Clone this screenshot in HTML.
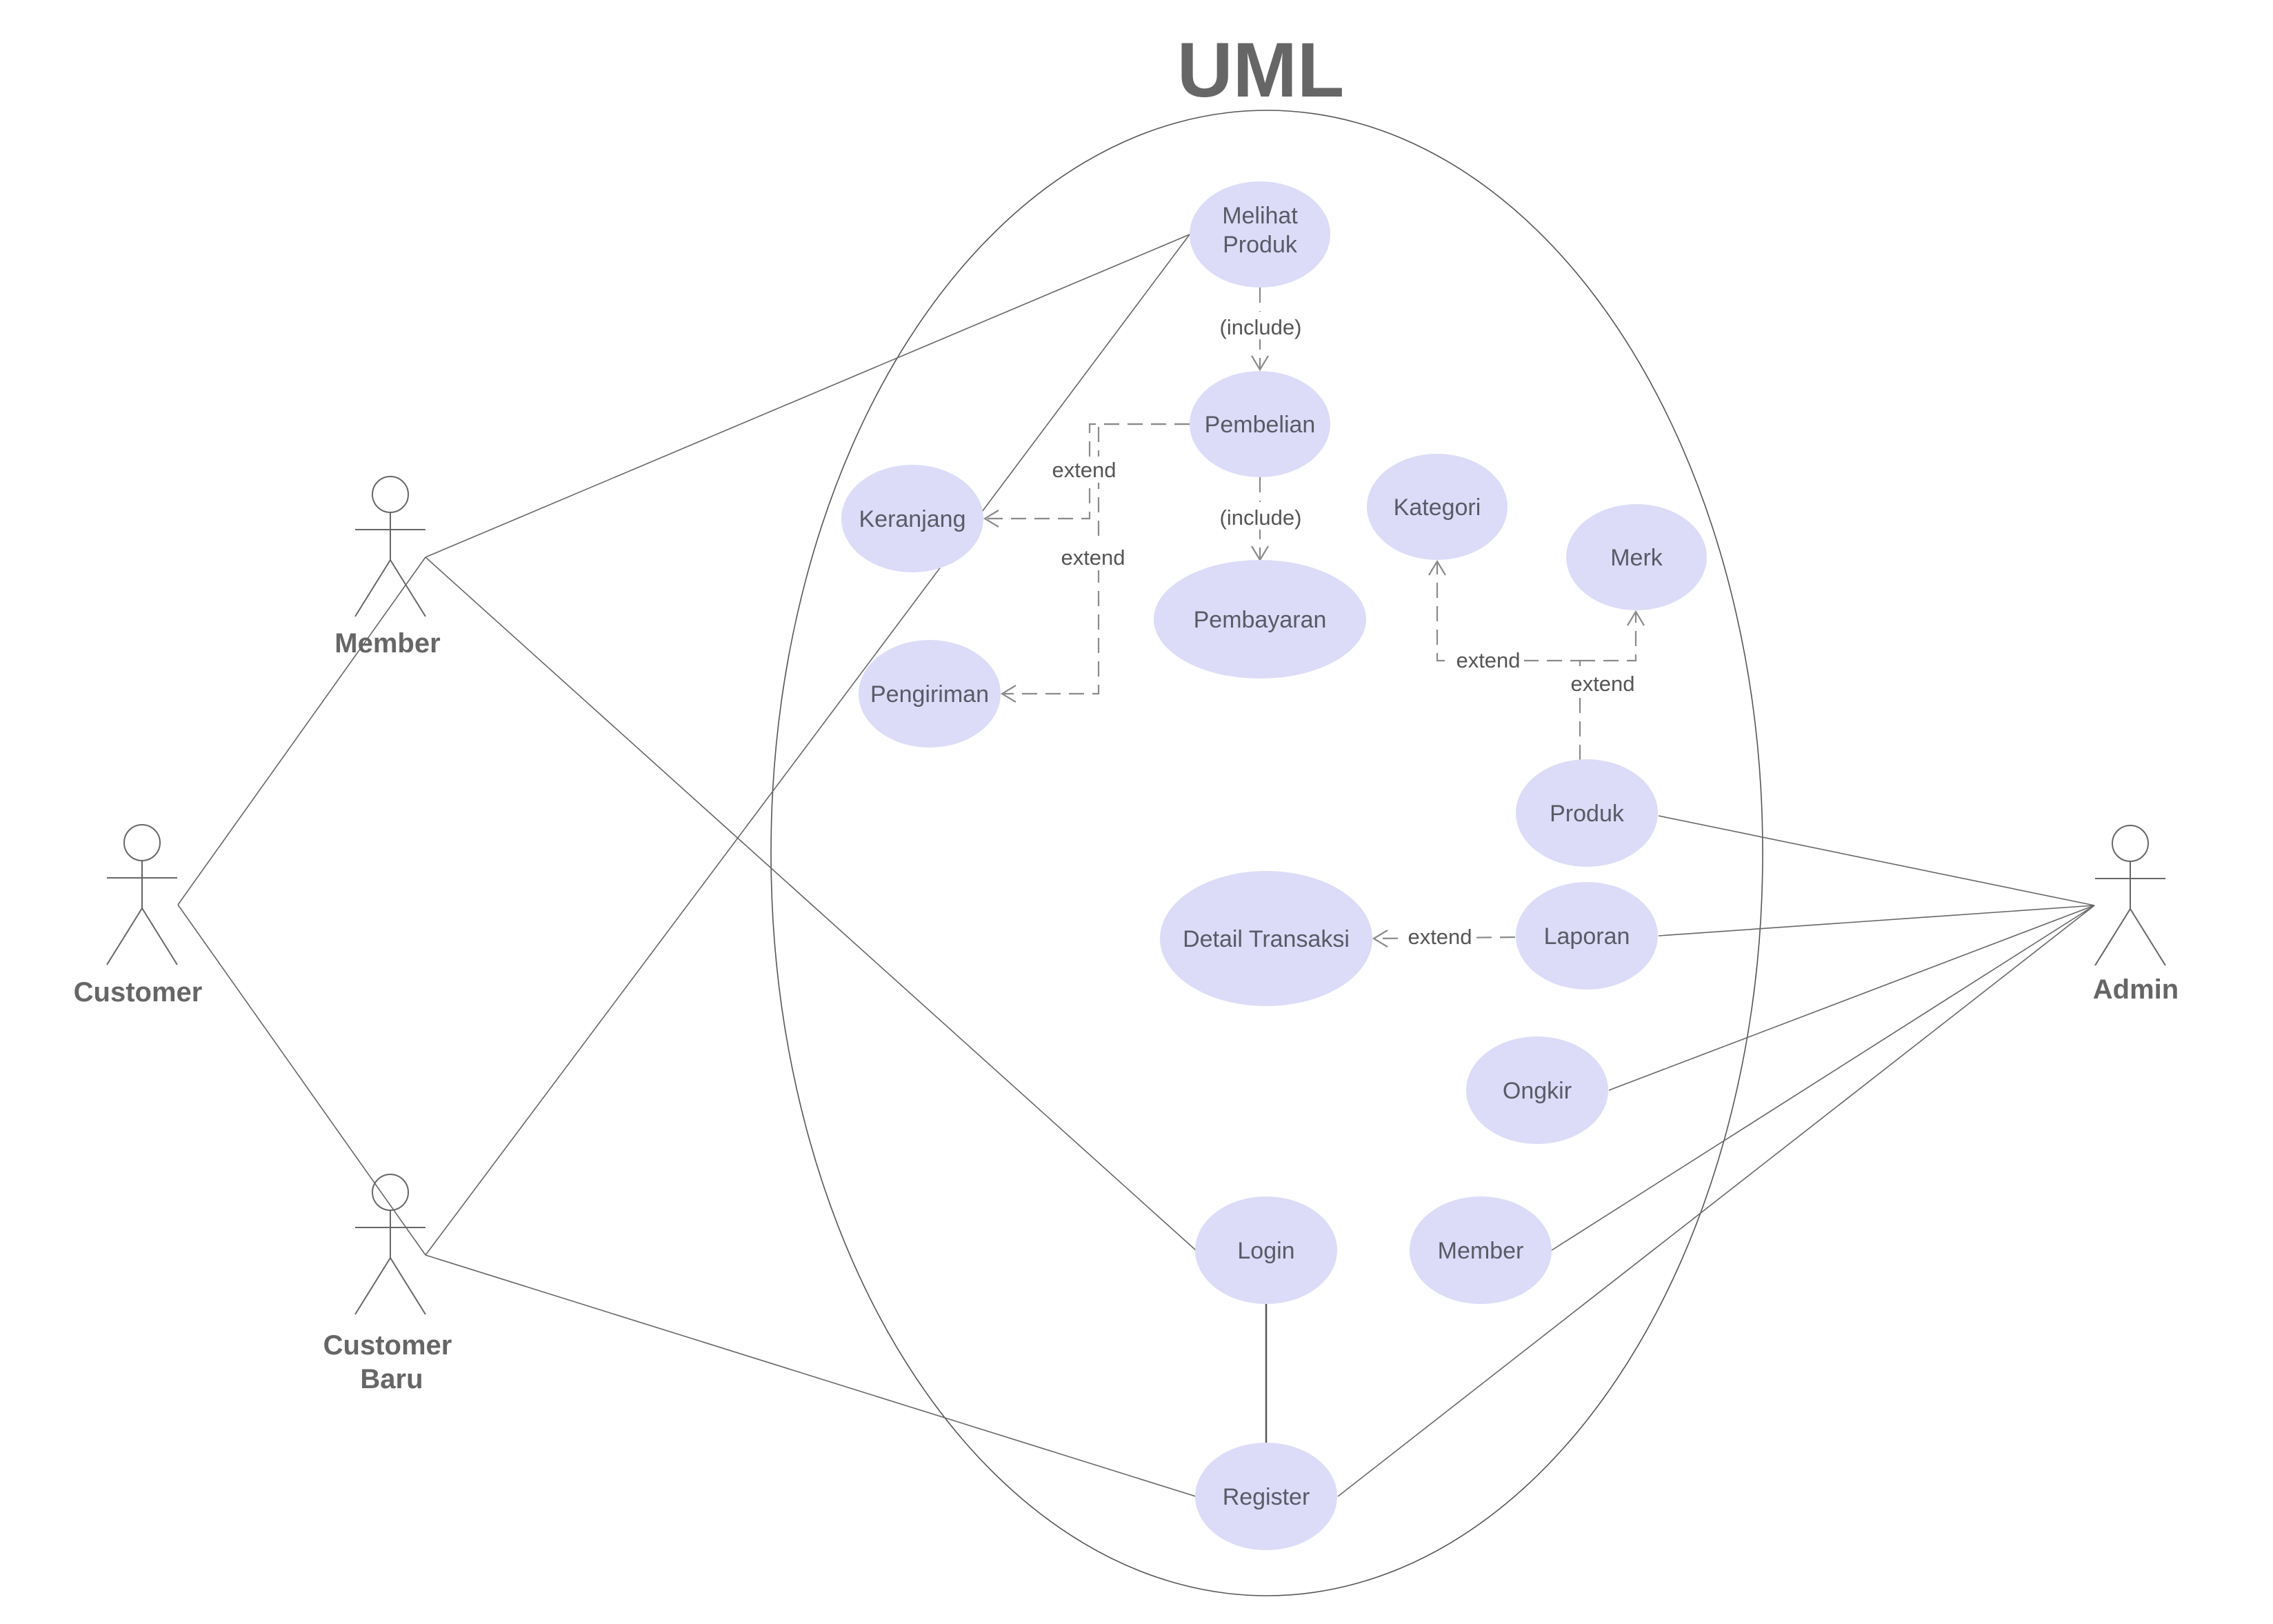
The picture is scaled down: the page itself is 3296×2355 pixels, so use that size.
<!DOCTYPE html>
<html><head><meta charset="utf-8"><style>html,body{margin:0;padding:0;background:#fff}svg{display:block}</style></head>
<body>
<svg width="3296" height="2355" viewBox="0 0 3296 2355" xmlns="http://www.w3.org/2000/svg" font-family="Liberation Sans, sans-serif">
<rect width="3296" height="2355" fill="#fff"/>
<text x="1828" y="140" font-size="112" font-weight="bold" fill="#666" text-anchor="middle">UML</text>
<ellipse cx="1837" cy="1237" rx="719" ry="1077" fill="none" stroke="#555" stroke-width="1.6"/>

<g stroke="#666" stroke-width="1.6" fill="none">
<!-- customer generalization -->
<line x1="258" y1="1312" x2="617" y2="808"/>
<line x1="258" y1="1312" x2="617" y2="1820"/>
<line x1="617" y1="808" x2="1725" y2="340"/>
<line x1="617" y1="808" x2="1734" y2="1813"/>
<line x1="617" y1="1820" x2="1725" y2="340"/>
<line x1="617" y1="1820" x2="1734" y2="2170"/>
<!-- admin -->
<line x1="3037" y1="1313" x2="2405" y2="1183"/>
<line x1="3037" y1="1313" x2="2405" y2="1357"/>
<line x1="3037" y1="1313" x2="2333" y2="1581"/>
<line x1="3037" y1="1313" x2="2250" y2="1813"/>
<line x1="3037" y1="1313" x2="1940" y2="2170"/>
</g>
<line x1="1836" y1="1891" x2="1836" y2="2092" stroke="#555" stroke-width="2.5"/>

<!-- actors -->
<g stroke="#666" stroke-width="2" fill="none">
<g transform="translate(566,717)"><circle r="26"/><line x1="0" y1="26" x2="0" y2="95"/><line x1="-51" y1="51" x2="51" y2="51"/><line x1="0" y1="95" x2="-51" y2="177"/><line x1="0" y1="95" x2="51" y2="177"/></g>
<g transform="translate(206,1222)"><circle r="26"/><line x1="0" y1="26" x2="0" y2="95"/><line x1="-51" y1="51" x2="51" y2="51"/><line x1="0" y1="95" x2="-51" y2="177"/><line x1="0" y1="95" x2="51" y2="177"/></g>
<g transform="translate(566,1729)"><circle r="26"/><line x1="0" y1="26" x2="0" y2="95"/><line x1="-51" y1="51" x2="51" y2="51"/><line x1="0" y1="95" x2="-51" y2="177"/><line x1="0" y1="95" x2="51" y2="177"/></g>
<g transform="translate(3089,1223)"><circle r="26"/><line x1="0" y1="26" x2="0" y2="95"/><line x1="-51" y1="51" x2="51" y2="51"/><line x1="0" y1="95" x2="-51" y2="177"/><line x1="0" y1="95" x2="51" y2="177"/></g>
</g>
<g font-size="40" font-weight="bold" fill="#666" text-anchor="middle">
<text x="562" y="946">Member</text>
<text x="200" y="1452">Customer</text>
<text x="562" y="1964">Customer</text>
<text x="568" y="2013">Baru</text>
<text x="3097" y="1448">Admin</text>
</g>

<!-- dashed connectors -->
<g stroke="#8a8a8a" stroke-width="2.2" fill="none" stroke-dasharray="22,12">
<line x1="1827" y1="417" x2="1827" y2="536"/>
<line x1="1827" y1="692" x2="1827" y2="810"/>
<polyline points="1725,615 1580,615 1580,752 1430,752"/>
<polyline points="1725,615 1593,615 1593,1006 1455,1006"/>
<polyline points="2291,1102 2291,958 2084,958 2084,815"/>
<polyline points="2291,958 2372,958 2372,888"/>
<line x1="2197" y1="1359" x2="1993" y2="1361"/>
</g>
<g stroke="#8a8a8a" stroke-width="2.2" fill="none">
<polyline points="1815,516 1827,536 1839,516"/>
<polyline points="1815,792 1827,812 1839,792"/>
<polyline points="1448,740 1428,752 1448,764"/>
<polyline points="1473,994 1453,1006 1473,1018"/>
<polyline points="2072,834 2084,814 2096,834"/>
<polyline points="2360,907 2372,887 2384,907"/>
<polyline points="2012,1349 1992,1361 2012,1373"/>
</g>
<g font-size="31" fill="#555" text-anchor="middle">
<rect x="1762" y="452" width="128" height="40" fill="#fff"/>
<text x="1828" y="485">(include)</text>
<rect x="1762" y="728" width="128" height="40" fill="#fff"/>
<text x="1828" y="761">(include)</text>
<rect x="1520" y="662" width="104" height="38" fill="#fff"/>
<text x="1572" y="692">extend</text>
<rect x="1533" y="789" width="104" height="38" fill="#fff"/>
<text x="1585" y="819">extend</text>
<rect x="2106" y="938" width="104" height="38" fill="#fff"/>
<text x="2158" y="968">extend</text>
<rect x="2272" y="972" width="104" height="38" fill="#fff"/>
<text x="2324" y="1002">extend</text>
<rect x="2036" y="1339" width="104" height="38" fill="#fff"/>
<text x="2088" y="1369">extend</text>
</g>

<!-- use cases -->
<g fill="#dcdcf8">
<ellipse cx="1827" cy="340" rx="102" ry="77"/>
<ellipse cx="1827" cy="615" rx="102" ry="77"/>
<ellipse cx="1827" cy="898" rx="154" ry="86"/>
<ellipse cx="2084" cy="735" rx="102" ry="77"/>
<ellipse cx="2373" cy="808" rx="102" ry="77"/>
<ellipse cx="1323" cy="752" rx="103" ry="78"/>
<ellipse cx="1348" cy="1006" rx="103" ry="78"/>
<ellipse cx="2301" cy="1179" rx="103" ry="78"/>
<ellipse cx="2301" cy="1357" rx="103" ry="78"/>
<ellipse cx="1836" cy="1361" rx="154" ry="98"/>
<ellipse cx="2229" cy="1581" rx="103" ry="78"/>
<ellipse cx="2147" cy="1813" rx="103" ry="78"/>
<ellipse cx="1836" cy="1813" rx="103" ry="78"/>
<ellipse cx="1836" cy="2170" rx="103" ry="78"/>
</g>
<g font-size="34" fill="#5a5a66" text-anchor="middle">
<text x="1827" y="324">Melihat</text>
<text x="1827" y="366">Produk</text>
<text x="1827" y="627">Pembelian</text>
<text x="1827" y="910">Pembayaran</text>
<text x="2084" y="747">Kategori</text>
<text x="2373" y="820">Merk</text>
<text x="1323" y="764">Keranjang</text>
<text x="1348" y="1018">Pengiriman</text>
<text x="2301" y="1191">Produk</text>
<text x="2301" y="1369">Laporan</text>
<text x="1836" y="1373">Detail Transaksi</text>
<text x="2229" y="1593">Ongkir</text>
<text x="2147" y="1825">Member</text>
<text x="1836" y="1825">Login</text>
<text x="1836" y="2182">Register</text>
</g>
</svg>
</body></html>
